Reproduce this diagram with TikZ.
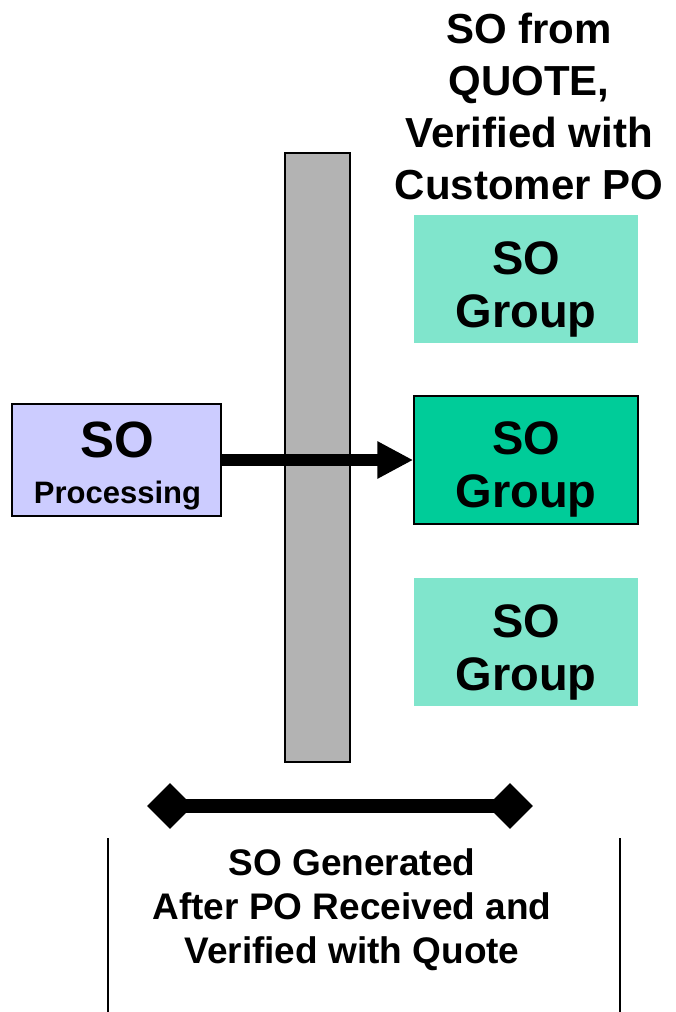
\documentclass[tikz,border=0pt]{standalone}
\usepackage{fontspec}
\setmainfont{Liberation Sans}
\usetikzlibrary{arrows.meta,shapes.geometric}
\definecolor{procfill}{HTML}{CCCCFF}
\definecolor{grpdark}{HTML}{00CC99}
\definecolor{grplight}{HTML}{80E5CC}
\definecolor{barfill}{HTML}{B3B3B3}
\tikzset{
  txt/.style={anchor=base, inner sep=0pt, font=\bfseries},
  procbox/.style={rectangle, draw=black, line width=1.5pt, fill=procfill,
    minimum width=209pt, minimum height=112pt, inner sep=0pt},
  grpbox/.style={rectangle, fill=grplight, minimum width=224pt,
    minimum height=128pt, inner sep=0pt},
  grpactive/.style={grpbox, fill=grpdark, draw=black, line width=1.5pt},
  barbox/.style={rectangle, draw=black, line width=2pt, fill=barfill,
    minimum width=65pt, minimum height=609pt, inner sep=0pt},
  tip/.style={diamond, fill=black, minimum width=46pt, minimum height=46pt,
    inner sep=0pt},
  flow/.style={line width=12pt, -{Triangle[length=36pt,width=35pt]}},
  span/.style={line width=14pt},
  frame/.style={line width=2pt}
}
\begin{document}
\begin{tikzpicture}[x=1pt,y=-1pt]
\useasboundingbox[fill=white] (0,0) rectangle (675,1012);

% vertical separator bar
\node[barbox] (bar) at (317.5,457.5) {};

% heading over the group column
\node[txt, font=\bfseries\fontsize{42}{42}\selectfont] (h1) at (529,43) {SO from};
\node[txt, font=\bfseries\fontsize{42}{42}\selectfont] (h2) at (529,95) {QUOTE,};
\node[txt, font=\bfseries\fontsize{42}{42}\selectfont] (h3) at (529,147) {Verified with};
\node[txt, font=\bfseries\fontsize{42}{42}\selectfont] (h4) at (529,199) {Customer PO};

% processing box
\node[procbox] (proc) at (116.5,460) {};
\node[txt, font=\bfseries\fontsize{51}{51}\selectfont] (proct) at (117,457) {SO};
\node[txt, font=\bfseries\fontsize{31}{31}\selectfont] (procs) at (117.5,503) {Processing};

% SO groups
\node[grpbox] (g1) at (526,279) {};
\node[grpactive] (g2) at (526,460) {};
\node[grpbox] (g3) at (526,642) {};
\foreach \g/\top in {1/215, 2/395, 3/578} {
  \node[txt, font=\bfseries\fontsize{47}{47}\selectfont] (g\g a) at (526,\top+59) {SO};
  \node[txt, font=\bfseries\fontsize{47}{47}\selectfont] (g\g b) at (526,\top+112) {Group};
}

% flow arrow
\draw[flow] (proc.east) -- (g2.west);

% span marker with diamond ends
\node[tip] (dl) at (170,806) {};
\node[tip] (dr) at (510,806) {};
\draw[span] (dl.center) -- (dr.center);

% side lines of the lower caption
\coordinate (la) at (108,838);
\coordinate (lb) at (108,1012);
\coordinate (ra) at (620,838);
\coordinate (rb) at (620,1012);
\draw[frame] (la) -- (lb);
\draw[frame] (ra) -- (rb);

% lower caption
\node[txt, font=\bfseries\fontsize{37}{37}\selectfont] (c1) at (352,875) {SO Generated};
\node[txt, font=\bfseries\fontsize{37}{37}\selectfont] (c2) at (352,919) {After PO Received and};
\node[txt, font=\bfseries\fontsize{37}{37}\selectfont] (c3) at (352,963) {Verified with Quote};
\end{tikzpicture}
\end{document}
